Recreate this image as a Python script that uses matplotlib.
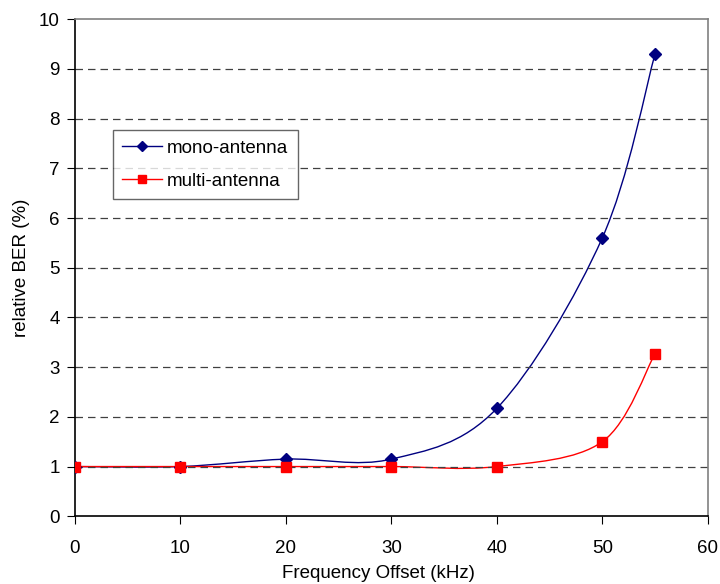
import numpy as np
import matplotlib.pyplot as plt
from matplotlib.path import Path
from matplotlib.patches import PathPatch
from matplotlib.lines import Line2D

plt.rcParams['font.family'] = ['Liberation Sans', 'DejaVu Sans']

# data
freq_offset = [0, 10, 20, 30, 40, 50, 55]
mono_ber = [1.0, 1.0, 1.15, 1.15, 2.17, 5.6, 9.3]
multi_ber = [1.0, 1.0, 1.0, 1.0, 1.0, 1.5, 3.27]


def smooth_path(x, y):
    # Excel-style smoothed line: cubic Bezier with Catmull-Rom control points
    pts = np.column_stack([x, y]).astype(float)
    ext = np.vstack([pts[0], pts, pts[-1]])
    verts = [tuple(pts[0])]
    codes = [Path.MOVETO]
    for i in range(1, len(ext) - 2):
        p0, p1, p2, p3 = ext[i - 1], ext[i], ext[i + 1], ext[i + 2]
        c1 = p1 + (p2 - p0) / 6.0
        c2 = p2 - (p3 - p1) / 6.0
        verts += [tuple(c1), tuple(c2), tuple(p2)]
        codes += [Path.CURVE4] * 3
    return Path(verts, codes)


fig = plt.figure(figsize=(7.2, 5.84), dpi=100)
ax = fig.add_axes([0.104, 0.116, 0.879, 0.851])

ax.add_patch(PathPatch(smooth_path(freq_offset, mono_ber), fill=False,
                       edgecolor='#000080', linewidth=1.0))
ax.add_patch(PathPatch(smooth_path(freq_offset, multi_ber), fill=False,
                       edgecolor='#ff0000', linewidth=1.0))
ax.plot(freq_offset, mono_ber, linestyle='none', marker='D', color='#000080',
        markersize=6, zorder=4)
ax.plot(freq_offset, multi_ber, linestyle='none', marker='s', color='#ff0000',
        markersize=7, zorder=4)

ax.set_xlim(0, 60)
ax.set_ylim(0, 10)
ax.set_xticks(range(0, 61, 10))
ax.set_yticks(range(0, 11))
ax.tick_params(direction='out', length=6, labelsize=13.5, color='black')
ax.tick_params(axis='x', pad=11)
ax.tick_params(axis='y', pad=5)
ax.set_xlabel('Frequency Offset (kHz)', fontsize=13.5, labelpad=1)
ax.xaxis.set_label_coords(0.479, -0.098)
ax.set_ylabel('relative BER (%)', fontsize=13.5, labelpad=6)

for yv in range(1, 10):
    ax.axhline(yv, color='#404040', linestyle=(0, (6, 4)), linewidth=0.9, zorder=1)

ax.spines['left'].set_color('black')
ax.spines['bottom'].set_color('black')
ax.spines['top'].set_color('#808080')
ax.spines['right'].set_color('#808080')
for s in ax.spines.values():
    s.set_linewidth(1.2)

# legend lines with markers through them
handles = [Line2D([], [], color='#000080', marker='D', markersize=5, linewidth=1),
           Line2D([], [], color='#ff0000', marker='s', markersize=6, linewidth=1)]
leg = ax.legend(handles, ['mono-antenna', 'multi-antenna'],
                loc='upper left', bbox_to_anchor=(0.06, 0.777), borderaxespad=0,
                fontsize=13.5, frameon=True, fancybox=False, handlelength=2.1,
                borderpad=0.5, labelspacing=0.85, handletextpad=0.3)
leg.get_frame().set_edgecolor('#404040')
leg.get_frame().set_linewidth(1.0)

plt.savefig('out.png', dpi=100)
